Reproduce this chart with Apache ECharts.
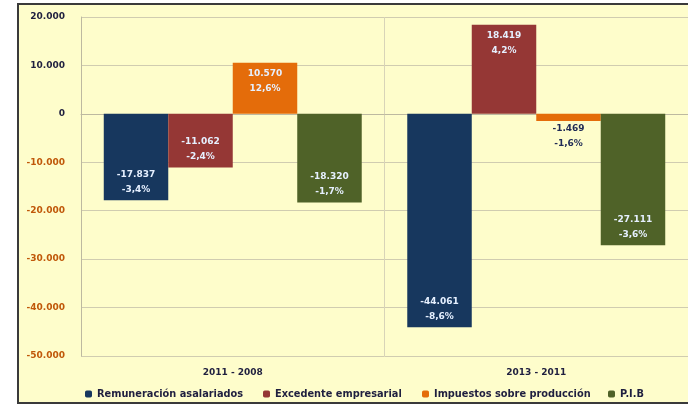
<!DOCTYPE html>
<html>
<head>
<meta charset="utf-8">
<script src="https://cdn.jsdelivr.net/npm/echarts@6/dist/echarts.min.js"></script>
<style>
  html, body { margin: 0; padding: 0; background: #fff; }
  #main { width: 688px; height: 406px; }
</style>
</head>
<body>
<div id="main"></div>
<script>
// periodos
var categories = ['2011 - 2008', '2013 - 2011'];

// variación en millones y en %
var remuneracion = [-17837, -44061];
var remuneracionPct = ['-3,4%', '-8,6%'];
var excedente = [-11062, 18419];
var excedentePct = ['-2,4%', '4,2%'];
var impuestos = [10570, -1469];
var impuestosPct = ['12,6%', '-1,6%'];
var pib = [-18320, -27111];
var pibPct = ['-1,7%', '-3,6%'];

var seriesNames = ['Remuneración asalariados', 'Excedente empresarial', 'Impuestos sobre producción', 'P.I.B'];

var chart = echarts.init(document.getElementById('main'));

function fmt(v) {
  var s = Math.abs(v).toString().replace(/\B(?=(\d{3})+(?!\d))/g, '.');
  return (v < 0 ? '-' : '') + s;
}

function makeSeries(name, values, pcts, color) {
  return {
    name: name,
    type: 'bar',
    barGap: '0%',
    barCategoryGap: '15%',
    itemStyle: { color: color },
    data: values.map(function (v, i) {
      var small = Math.abs(v) < 5000;
      return {
        value: v,
        label: {
          show: true,
          position: small ? (v < 0 ? 'bottom' : 'top') : (v < 0 ? 'insideBottom' : 'insideTop'),
          distance: small ? 0 : 3,
          color: small ? '#1F2A55' : '#E6F0FF',
          fontFamily: 'DejaVu Sans',
          fontWeight: 'bold',
          fontSize: 9,
          lineHeight: 15,
          formatter: function () { return fmt(v) + '\n' + pcts[i]; }
        }
      };
    })
  };
}

// una leyenda por serie para respetar el espaciado del original
var legendLeft = [80, 258, 417, 603];
var legends = seriesNames.map(function (n, i) {
  return {
    left: legendLeft[i],
    top: 384,
    itemWidth: 7,
    itemHeight: 7,
    textStyle: { fontFamily: 'DejaVu Sans', fontWeight: 'bold', fontSize: 9.8, color: '#1F1F3F' },
    data: [n]
  };
});

var option = {
  backgroundColor: '#fff',
  animation: false,
  graphic: [{
    type: 'rect',
    z: -10,
    shape: { x: 18, y: 4, width: 690, height: 399 },
    style: { fill: '#FEFDCB', stroke: '#3A3A3A', lineWidth: 2 }
  }],
  textStyle: { fontFamily: 'DejaVu Sans' },
  grid: { left: 81, right: 0, top: 17, bottom: 50 },
  legend: legends,
  xAxis: {
    type: 'category',
    data: categories,
    axisLine: { lineStyle: { color: '#BDB9A0', width: 1 } },
    axisTick: { show: false },
    splitLine: { show: true, lineStyle: { color: '#D8D4B8' } },
    axisLabel: { fontFamily: 'DejaVu Sans', fontWeight: 'bold', fontSize: 9, color: '#1F1F3F', margin: 12 }
  },
  yAxis: {
    type: 'value',
    min: -50000,
    max: 20000,
    interval: 10000,
    axisLine: { show: true, lineStyle: { color: '#BDB9A0' } },
    axisTick: { show: false },
    splitLine: { lineStyle: { color: '#D0CCB0' } },
    axisLabel: {
      fontFamily: 'DejaVu Sans',
      fontWeight: 'bold',
      fontSize: 9,
      margin: 16,
      formatter: function (v) { return fmt(v); },
      color: function (v) { return v < 0 ? '#C0580A' : '#1F1F3F'; }
    }
  },
  series: [
    makeSeries(seriesNames[0], remuneracion, remuneracionPct, '#17375E'),
    makeSeries(seriesNames[1], excedente, excedentePct, '#953735'),
    makeSeries(seriesNames[2], impuestos, impuestosPct, '#E46C0A'),
    makeSeries(seriesNames[3], pib, pibPct, '#4F6228')
  ]
};

chart.setOption(option);
</script>
</body>
</html>
